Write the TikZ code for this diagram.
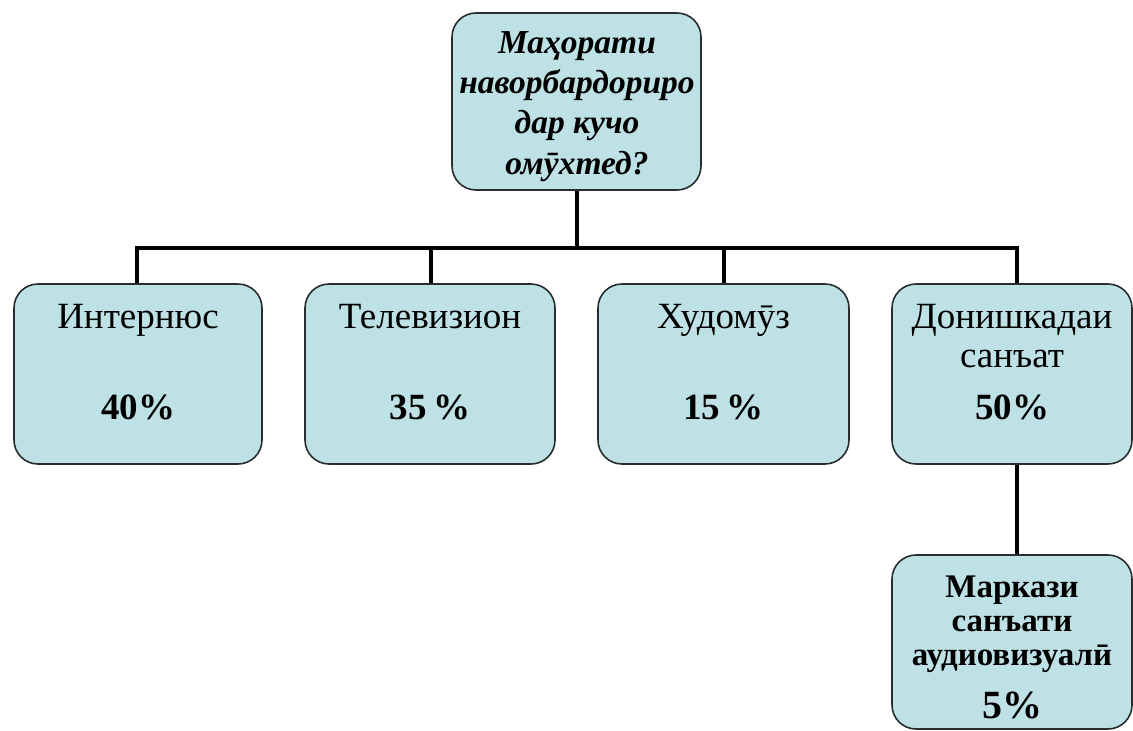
\documentclass[tikz,border=0pt]{standalone}
\usepackage{fontspec}
\setmainfont{Liberation Serif}
\definecolor{boxfill}{RGB}{190,225,229}
\definecolor{boxline}{RGB}{40,45,45}
\begin{document}
\begin{tikzpicture}[x=1pt,y=-1pt,
  box/.style={draw=boxline, line width=1.6pt, fill=boxfill, rounded corners=24pt, inner sep=0pt},
  conn/.style={draw=black, line width=4.5pt, line join=miter},
  toptext/.style={anchor=base, inner sep=0pt, font=\fontsize{33.5}{38}\selectfont\bfseries\itshape},
  rowtext/.style={anchor=base, inner sep=0pt, font=\fontsize{37}{42}\selectfont},
  pcttext/.style={anchor=base, inner sep=0pt, font=\fontsize{37}{42}\selectfont\bfseries},
  bigpct/.style={anchor=base, inner sep=0pt, font=\fontsize{40}{44}\selectfont\bfseries},
  smalltext/.style={anchor=base, inner sep=0pt, font=\fontsize{33}{36}\selectfont\bfseries}
]
\useasboundingbox (0,0) rectangle (1133,731);
\fill[white] (0,0) rectangle (1133,731);

% boxes
\node[box, minimum width=249pt, minimum height=177pt] (top) at (576.5,101.5) {};
\node[box, minimum width=248pt, minimum height=180pt] (b1) at (138,374) {};
\node[box, minimum width=250pt, minimum height=180pt] (b2) at (430,374) {};
\node[box, minimum width=251pt, minimum height=180pt] (b3) at (723.5,374) {};
\node[box, minimum width=240pt, minimum height=180pt] (b4) at (1012,374) {};
\node[box, minimum width=240pt, minimum height=174pt] (b5) at (1012,642) {};

% connectors
\coordinate (bus) at (577,248);
\coordinate (c1) at (137,248);
\coordinate (c2) at (431,248);
\coordinate (c3) at (724,248);
\coordinate (c4) at (1017,248);
\draw[conn] (top.south -| bus) -- (bus);
\draw[conn] (c1 |- b1.north) -- (c1) -- (c4) -- (c4 |- b4.north);
\draw[conn] (c2) -- (c2 |- b2.north);
\draw[conn] (c3) -- (c3 |- b3.north);
\draw[conn] (b4.south -| c4) -- (b5.north -| c4);

% top box text
\node[toptext] (t1) at (577,53) {Маҳорати};
\node[toptext] (t2) at (577,93) {наворбардориро};
\node[toptext] (t3) at (577,133) {дар кучо};
\node[toptext] (t4) at (577,174) {омӯхтед?};

% row texts
\node[rowtext] (l1) at (138,328) {Интернюс};
\node[pcttext] (p1) at (138,419) {40\%};
\node[rowtext] (l2) at (430,328) {Телевизион};
\node[pcttext] (p2) at (430,419) {35\,\%};
\node[rowtext] (l3) at (723.5,328) {Худомӯз};
\node[pcttext] (p3) at (723.5,419) {15\,\%};
\node[rowtext] (l4a) at (1012,328) {Донишкадаи};
\node[rowtext] (l4b) at (1012,367) {санъат};
\node[pcttext] (p4) at (1012,419) {50\%};

% bottom box text
\node[smalltext] (m1) at (1012,597) {Маркази};
\node[smalltext] (m2) at (1012,631) {санъати};
\node[smalltext] (m3) at (1012,665) {аудиовизуалӣ};
\node[bigpct] (m4) at (1012,718) {5\%};
\end{tikzpicture}
\end{document}
